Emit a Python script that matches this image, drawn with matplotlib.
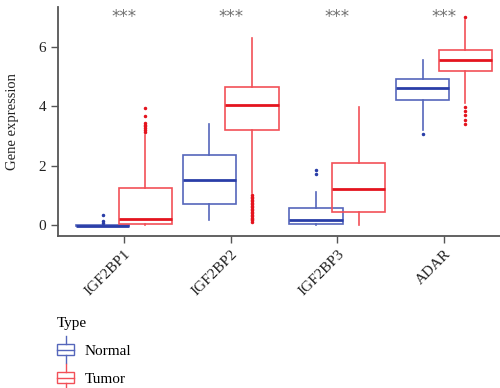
import matplotlib
matplotlib.use("Agg")
import matplotlib.pyplot as plt
from matplotlib.legend_handler import HandlerBase
from matplotlib.patches import Rectangle
from matplotlib.lines import Line2D

plt.rcParams['font.family'] = ['Liberation Serif', 'DejaVu Serif']

genes = ["IGF2BP1", "IGF2BP2", "IGF2BP3", "ADAR"]
groups = ["Normal", "Tumor"]
signif = ["***", "***", "***", "***"]

# box statistics
normal_med = [-0.02, 1.50, 0.15, 4.63]
normal_q1 = [-0.03, 0.69, 0.02, 4.20]
normal_q3 = [0.00, 2.37, 0.58, 4.92]
normal_lo = [-0.03, 0.15, 0.00, 3.20]
normal_hi = [0.00, 3.39, 1.10, 5.57]
normal_fliers = [[0.08, 0.14, 0.32], [], [1.72, 1.86], [3.06]]

tumor_med = [0.20, 4.04, 1.20, 5.55]
tumor_q1 = [0.03, 3.20, 0.42, 5.18]
tumor_q3 = [1.23, 4.65, 2.08, 5.91]
tumor_lo = [0.00, 1.07, 0.00, 4.12]
tumor_hi = [3.02, 6.30, 3.98, 6.90]
tumor_fliers = [[3.12, 3.2, 3.26, 3.32, 3.38, 3.45, 3.69, 3.93],
                [0.1, 0.15, 0.2, 0.25, 0.3, 0.35, 0.4, 0.45, 0.5, 0.55, 0.6, 0.65,
                 0.7, 0.75, 0.8, 0.85, 0.9, 0.95, 1.0],
                [],
                [3.40, 3.55, 3.70, 3.83, 3.99, 7.02]]

colors = {"Normal": ("#5566bb", "#2a3ea8"), "Tumor": ("#f25058", "#e4141e")}

def make_stats(med, q1, q3, lo, hi, fl):
    return [dict(med=m, q1=a, q3=b, whislo=l, whishi=h, fliers=f)
            for m, a, b, l, h, f in zip(med, q1, q3, lo, hi, fl)]

fig = plt.figure(figsize=(5.0, 3.88), dpi=100)
ax = fig.add_axes([0.116, 0.392, 0.9, 0.59])

offsets = {"Normal": -0.2, "Tumor": 0.2}
stats = {"Normal": make_stats(normal_med, normal_q1, normal_q3, normal_lo, normal_hi, normal_fliers),
         "Tumor": make_stats(tumor_med, tumor_q1, tumor_q3, tumor_lo, tumor_hi, tumor_fliers)}

for g in groups:
    ec, mc = colors[g]
    pos = [i + offsets[g] for i in range(len(genes))]
    ax.bxp(stats[g], positions=pos, widths=0.5, showcaps=False, patch_artist=True,
           boxprops=dict(facecolor="none", edgecolor=ec, linewidth=1.2),
           medianprops=dict(color=mc, linewidth=2.0),
           whiskerprops=dict(color=ec, linewidth=1.2),
           flierprops=dict(marker='o', markersize=1.5, markerfacecolor=mc,
                           markeredgecolor=mc, linestyle='none'))

for i, s in enumerate(signif):
    ax.text(i, 7.0, s, ha='center', va='center', color='#707070', fontsize=12,
            family='DejaVu Sans')

ax.set_xlim(-0.62, 3.6)
ax.set_ylim(-0.37, 7.35)
ax.set_xticks(range(len(genes)))
ax.set_xticklabels(genes, rotation=45, ha='right', rotation_mode='anchor', fontsize=11)
ax.set_yticks([0, 2, 4, 6])
ax.tick_params(axis='both', labelsize=11, length=5, width=1.0, color='#555555', labelcolor='#222222')
ax.set_ylabel("Gene expression", fontsize=10.5, color='#222222', labelpad=14)
for sp in ['top', 'right']:
    ax.spines[sp].set_visible(False)
for sp in ['left', 'bottom']:
    ax.spines[sp].set_color('#555555')
    ax.spines[sp].set_linewidth(1.3)


class BoxHandler(HandlerBase):
    def create_artists(self, legend, orig_handle, xdescent, ydescent, width, height, fontsize, trans):
        c = orig_handle.get_color()
        cx = width / 2 - xdescent
        bw = width * 0.95
        bh = height * 0.8
        y0 = height / 2 - ydescent - bh / 2
        rect = Rectangle((cx - bw / 2, y0), bw, bh, facecolor='none', edgecolor=c, lw=1.0, transform=trans)
        med = Line2D([cx - bw / 2, cx + bw / 2], [y0 + bh / 2] * 2, color=c, lw=1.0, transform=trans)
        w1 = Line2D([cx, cx], [y0 + bh, y0 + bh + height * 0.6], color=c, lw=1.0, transform=trans)
        w2 = Line2D([cx, cx], [y0, y0 - height * 0.6], color=c, lw=1.0, transform=trans)
        return [rect, med, w1, w2]


handles = [Line2D([], [], color=colors[g][0]) for g in groups]
leg = fig.legend(handles, groups, title="Type", loc='upper left', bbox_to_anchor=(0.113, 0.183),
                 frameon=False, handler_map={Line2D: BoxHandler()}, handlelength=1.2,
                 handleheight=1.0, labelspacing=0.85, fontsize=11, title_fontsize=11,
                 handletextpad=0.65, borderaxespad=0, borderpad=0)
leg._legend_box.align = "left"

fig.savefig("out.png", dpi=100)
